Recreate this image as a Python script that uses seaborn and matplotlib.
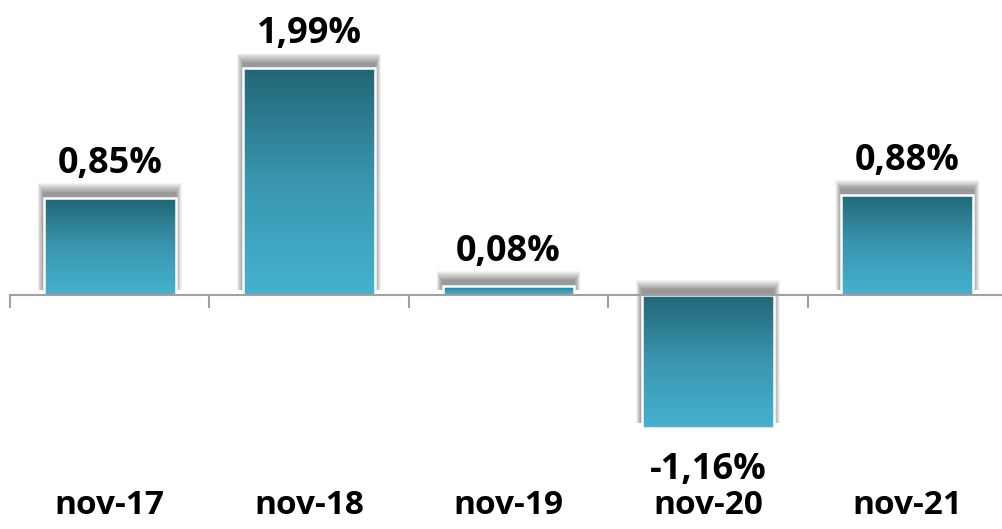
import numpy as np
import pandas as pd
import matplotlib
matplotlib.use("Agg")
import matplotlib.pyplot as plt
import matplotlib.transforms as mtransforms
from matplotlib.patches import Rectangle
from matplotlib.colors import LinearSegmentedColormap
import seaborn as sns

categories = ["nov-17", "nov-18", "nov-19", "nov-20", "nov-21"]
values = [0.85, 1.99, 0.08, -1.16, 0.88]
labels = ["0,85%", "1,99%", "0,08%", "-1,16%", "0,88%"]

sns.set_style("white")
plt.rcParams['font.family'] = ['Open Sans', 'DejaVu Sans']

fig = plt.figure(figsize=(10.02, 5.29), dpi=100)
ax = fig.add_axes([10/1002, 0, 997/1002, 1])

df = pd.DataFrame({"cat": categories, "val": values})
sns.barplot(data=df, x="cat", y="val", ax=ax, width=0.66, color="#2f8aa0",
            edgecolor="white", linewidth=1.8, zorder=3)

ax.set_xlim(-0.5, 4.5)
ax.set_ylim(-2.05, 2.59)

cmap = LinearSegmentedColormap.from_list("g", ["#226676", "#3a96b0", "#45b2cf"])
grad = np.linspace(0, 1, 256).reshape(-1, 1)

px_x = 1.0 / 199.4   # data units per pixel horizontally
px_y = 1.0 / 114.0   # data units per pixel vertically

for p, v in zip(ax.patches, values):
    x0, y0 = p.get_x(), p.get_y()
    w, h = p.get_width(), p.get_height()
    ytop = max(y0, y0 + h)
    ybot = min(y0, y0 + h)
    # soft drop shadow, offset upward
    shift = 5 * px_y
    for k in range(11, 0, -1):
        sh = Rectangle((x0 - k * px_x * 0.55, ybot + shift),
                       w + 2 * k * px_x * 0.55, (ytop - ybot) + k * px_y * 0.9,
                       facecolor="black", edgecolor="none", alpha=0.045,
                       zorder=1, linewidth=0)
        ax.add_patch(sh)
    im = ax.imshow(grad, cmap=cmap, aspect="auto", extent=(x0, x0 + w, ybot, ytop),
                   zorder=2, interpolation="bilinear")
    im.set_clip_path(p)
    p.set_facecolor("none")

for i, (v, lab) in enumerate(zip(values, labels)):
    if v >= 0:
        ax.text(i, v + 0.22, lab, ha="center", va="baseline", fontsize=26,
                fontweight="bold", color="black", zorder=5)
    else:
        ax.text(i, v - 0.455, lab, ha="center", va="baseline", fontsize=26,
                fontweight="bold", color="black", zorder=5)

trans = mtransforms.blended_transform_factory(ax.transData, ax.transAxes)
for i, c in enumerate(categories):
    ax.text(i, 0.028, c, ha="center", va="baseline", fontsize=24, fontweight="bold",
            color="black", transform=trans)

for s in ["top", "right", "left"]:
    ax.spines[s].set_visible(False)
ax.spines["bottom"].set_position(("data", 0))
ax.spines["bottom"].set_color("#a0a0a0")
ax.spines["bottom"].set_linewidth(1.5)
ax.spines["bottom"].set_zorder(4)
ax.set_xticks(np.arange(len(categories)))
ax.set_xticklabels([])
ax.set_xticks(np.arange(-0.5, 4.6, 1.0), minor=True)
ax.tick_params(axis="x", which="major", length=0, bottom=False)
ax.tick_params(axis="x", which="minor", bottom=True, length=9, width=1.5,
               color="#a0a0a0", direction="out")
ax.set_yticks([])
ax.set_xlabel("")
ax.set_ylabel("")

fig.savefig("out.png", dpi=100)
